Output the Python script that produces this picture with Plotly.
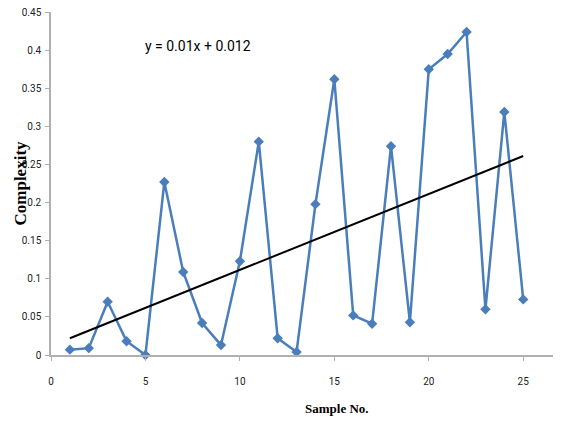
import numpy as np
import plotly.graph_objects as go

sample_no = list(range(1, 26))
complexity = [0.007, 0.009, 0.070, 0.018, 0.000, 0.227, 0.109, 0.042, 0.013, 0.123,
              0.280, 0.022, 0.004, 0.198, 0.362, 0.052, 0.041, 0.274, 0.043, 0.375,
              0.395, 0.424, 0.060, 0.319, 0.073]
y_ticks = [0, 0.05, 0.1, 0.15, 0.2, 0.25, 0.3, 0.35, 0.4, 0.45]
y_tick_labels = ["0", "0.05", "0.1", "0.15", "0.2", "0.25", "0.3", "0.35", "0.4", "0.45"]
x_ticks = [0, 5, 10, 15, 20, 25]
x_tick_labels = ["0", "5", "10", "15", "20", "25"]
equation = "y = 0.01x + 0.012"
x_title = "Sample No."
y_title = "Complexity"

slope, intercept = np.polyfit(sample_no, complexity, 1)
trend_x = [sample_no[0], sample_no[-1]]
trend_y = [slope * x + intercept for x in trend_x]

fig = go.Figure()
fig.add_trace(go.Scatter(
    x=sample_no, y=complexity, mode="lines+markers",
    line=dict(color="#4a7ebb", width=2.5),
    marker=dict(symbol="diamond", size=8, color="#4a7ebb"),
    showlegend=False, cliponaxis=False))
fig.add_trace(go.Scatter(
    x=trend_x, y=trend_y, mode="lines",
    line=dict(color="#000000", width=2), showlegend=False))

sans = "Liberation Sans Narrow, Roboto, sans-serif"
tick_font = dict(family=sans, size=10, color="#222222")
title_font = "Liberation Serif, serif"

fig.add_annotation(x=7.8, y=0.405, xref="x", yref="y", text=equation, showarrow=False,
                   font=dict(family=sans, size=14, color="#000000"))
fig.add_annotation(x=0, y=0.5, xref="paper", yref="paper", xshift=-31, text=y_title,
                   textangle=-90, showarrow=False, xanchor="center", yanchor="middle",
                   font=dict(family=title_font, size=17, color="#000000", weight="bold"))
fig.add_annotation(x=0.56, y=0, xref="paper", yref="paper", yshift=-53, text=x_title,
                   showarrow=False, xanchor="center", yanchor="middle",
                   font=dict(family=title_font, size=13, color="#000000", weight="bold"))

fig.update_layout(
    width=553, height=414,
    margin=dict(l=43, r=0, t=4, b=67),
    paper_bgcolor="white", plot_bgcolor="white",
    xaxis=dict(range=[0, 27], tickvals=x_ticks, ticktext=x_tick_labels, automargin=False,
               showgrid=False, zeroline=False, showline=True, linecolor="#b0b0b0", linewidth=1.5,
               ticks="outside", ticklen=4, tickcolor="#b0b0b0", tickfont=tick_font,
               ticklabelstandoff=12, ticklabeloverflow="allow"),
    yaxis=dict(range=[0, 0.4502], tickvals=y_ticks, ticktext=y_tick_labels, automargin=False,
               showgrid=False, zeroline=False, showline=True, linecolor="#b0b0b0", linewidth=1.5,
               ticks="outside", ticklen=4, tickcolor="#b0b0b0", tickfont=tick_font,
               ticklabelstandoff=2, ticklabeloverflow="allow"),
)
fig.write_html("out.html")
